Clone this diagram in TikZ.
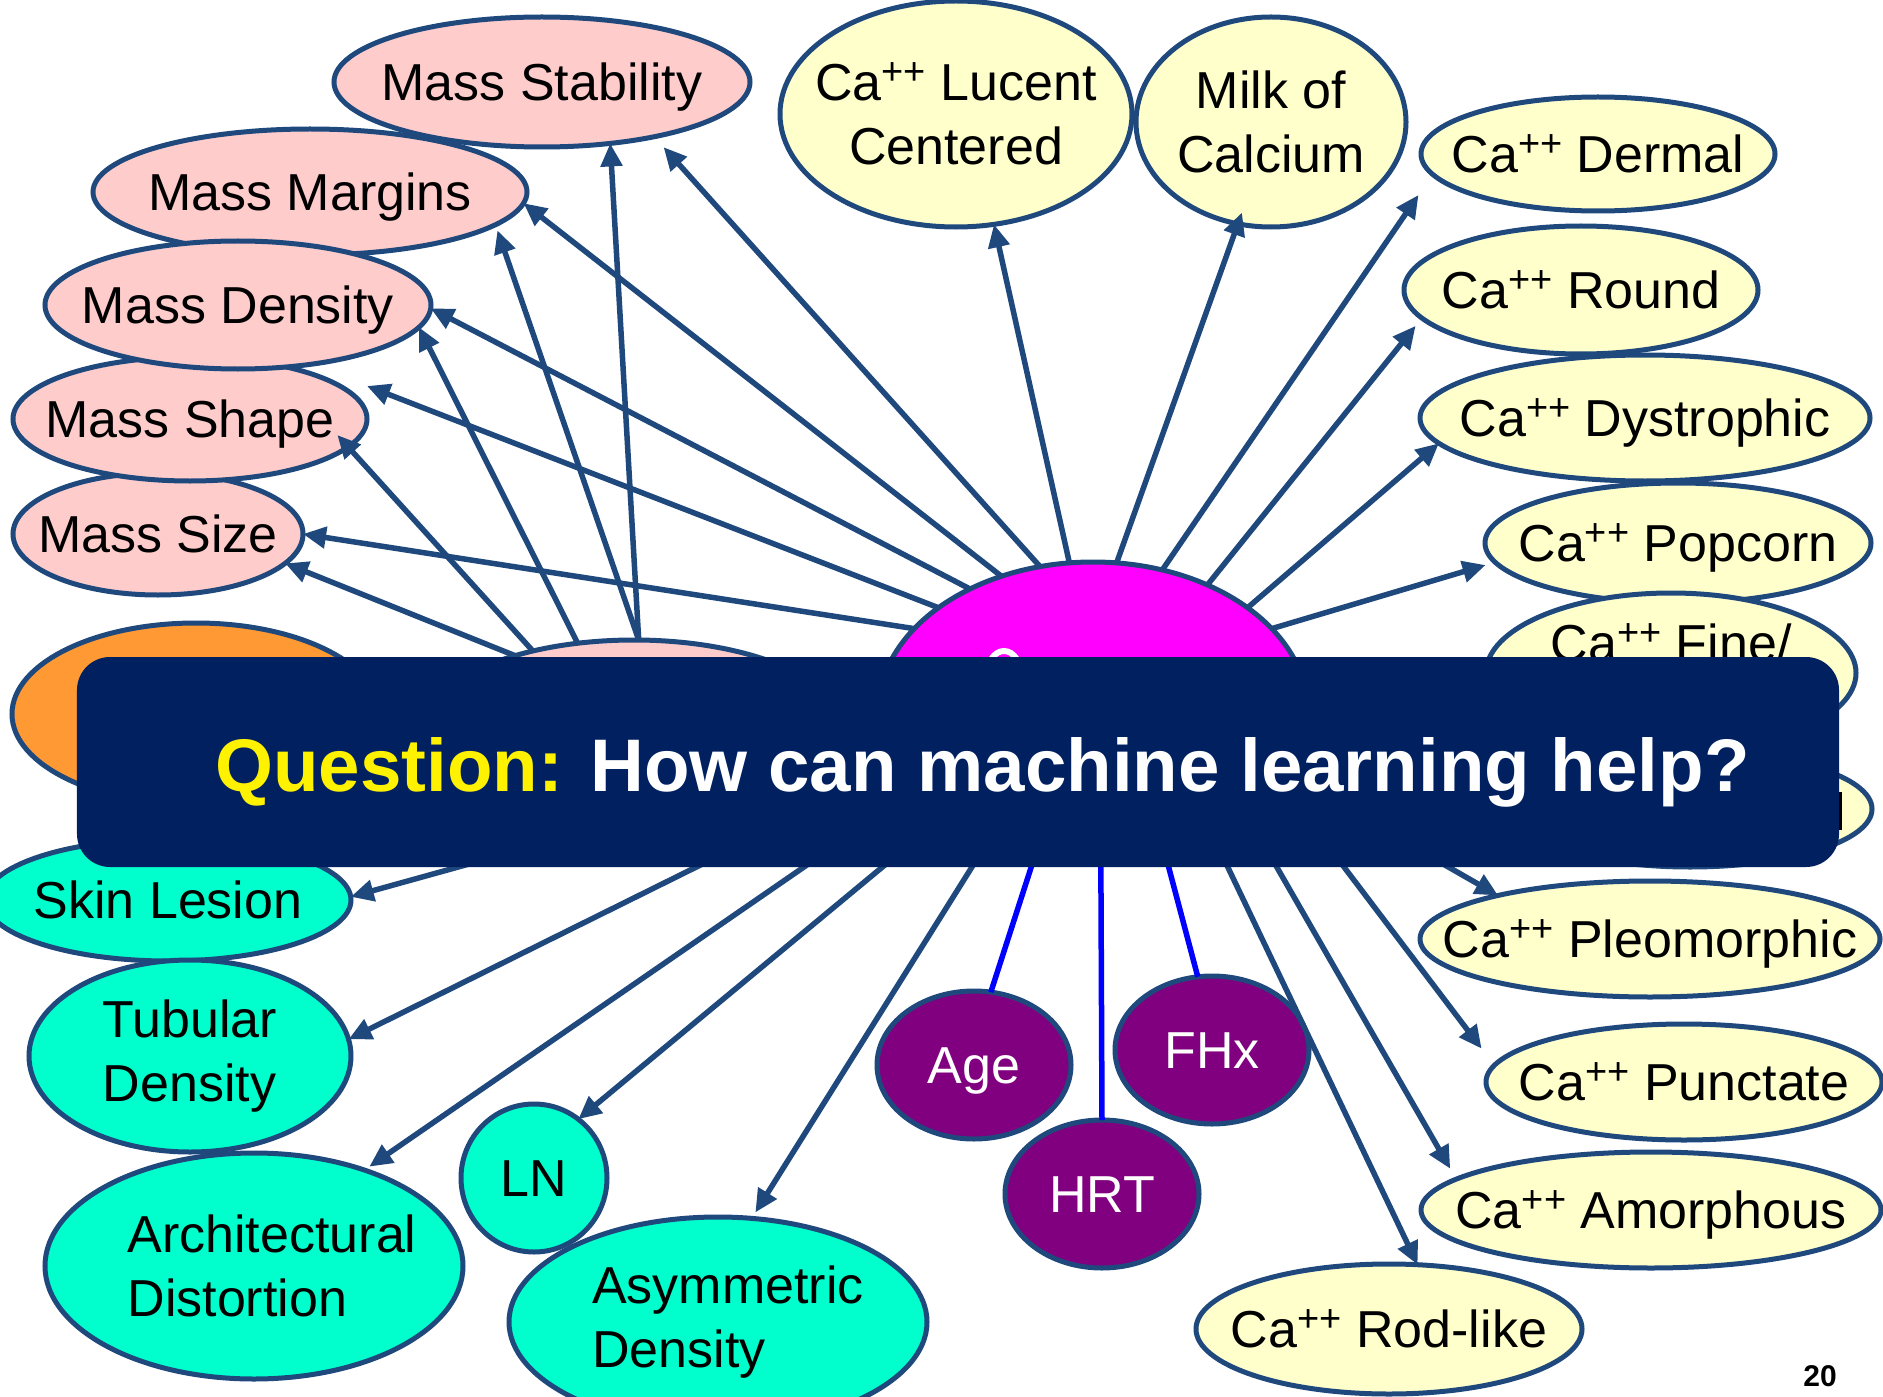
\documentclass[tikz,border=0pt]{standalone}
\usepackage{fontspec}
\setmainfont{Liberation Sans}
\usetikzlibrary{arrows.meta,shapes.geometric}
\definecolor{edgec}{HTML}{1F497D}
\definecolor{pinkf}{HTML}{FFCCCC}
\definecolor{yelf}{HTML}{FFFFCC}
\definecolor{cyanf}{HTML}{00FFCC}
\definecolor{purf}{HTML}{800080}
\definecolor{orgf}{HTML}{FF9933}
\definecolor{magf}{HTML}{FF00FF}
\definecolor{navyc}{HTML}{002060}
\definecolor{bluel}{HTML}{0000FF}
\newcommand{\CaPP}{Ca\raisebox{16bp}{\fontsize{38bp}{38bp}\selectfont ++}}
\begin{document}
\begin{tikzpicture}[x=1bp,y=-1bp,
  el/.style={ellipse, draw=edgec, line width=5bp, inner sep=-80bp, outer sep=0pt, align=center, font=\fontsize{52bp}{64bp}\selectfont},
  one/.style={text height=37bp, text depth=0bp},
  esz/.style 2 args={minimum width=#1bp, minimum height=#2bp},
  pinknode/.style={el, fill=pinkf},
  yelnode/.style={el, fill=yelf},
  cyannode/.style={el, fill=cyanf},
  purnode/.style={el, fill=purf, text=white},
  arr/.style={draw=edgec, line width=5.5bp, -{Triangle[length=23bp,width=21bp]}},
  bline/.style={draw=bluel, line width=5.5bp},
]
\useasboundingbox[fill=white] (0,0) rectangle (1883,1397);

% pink mass nodes
\node[pinknode, one, esz={416}{130}] (mstab) at (542,82) {Mass Stability};
\node[pinknode, one, esz={434}{126}] (mmarg) at (310,192) {Mass Margins};
\node[pinknode, one, esz={290}{122}] (msize) at (158,534) {Mass Size};
\node[pinknode, one, esz={354}{124}] (mshape) at (190,419) {Mass Shape};
\node[pinknode, one, esz={386}{128}] (mdens) at (238,305) {Mass Density};

% nodes mostly hidden behind the banner
\node[el, fill=orgf, esz={368}{182}] (orangen) at (196,714) {};
\node[pinknode, esz={422}{180}] (mass) at (634,730) {};
\node[el, fill=magf, esz={430}{300}] (central) at (1093,712) {};
\draw[white, line width=6bp] (1004,675) ellipse [x radius=17, y radius=24];

% yellow calcification nodes
\node[yelnode, esz={352}{226}] (lucent) at (956,114) {\CaPP{} Lucent\\Centered};
\node[yelnode, esz={270}{210}] (milk) at (1271,122) {Milk of\\Calcium};
\node[yelnode, one, esz={354}{114}] (dermal) at (1598,154) {\CaPP{} Dermal};
\node[yelnode, one, esz={354}{128}] (round) at (1581,290) {\CaPP{} Round};
\node[yelnode, one, esz={450}{126}] (dystro) at (1645,418) {\CaPP{} Dystrophic};
\node[yelnode, one, esz={386}{120}] (popcorn) at (1678,543) {\CaPP{} Popcorn};
\node[yelnode, esz={370}{160}] (fine) at (1671,673) {};
\node[anchor=base, inner sep=0pt, font=\fontsize{52bp}{64bp}\selectfont] (finetxt) at (1671,661) {\CaPP{} Fine/};
\node[yelnode, esz={364}{116}] (hidden2) at (1690,809) {};
\fill[black] (1836,792) rectangle (1842,830);
\node[yelnode, one, esz={460}{116}] (pleo) at (1650,939) {\CaPP{} Pleomorphic};
\node[yelnode, one, esz={396}{116}] (punct) at (1684,1082) {\CaPP{} Punctate};
\node[yelnode, one, esz={460}{116}] (amorph) at (1651,1210) {\CaPP{} Amorphous};
\node[yelnode, one, esz={386}{130}] (rod) at (1389,1329) {\CaPP{} Rod-like};

% cyan nodes
\node[cyannode, one, esz={366}{122}] (skin) at (168,900) {Skin Lesion};
\node[cyannode, esz={322}{192}, align=left] (tubular) at (190,1056) {Tubular\\Density};
\node[cyannode, esz={418}{226}, align=left] (arch) at (254,1266) {\hspace*{36bp}Architectural\\\hspace*{36bp}Distortion};
\node[cyannode, one, esz={146}{148}] (ln) at (534,1178) {LN};
\node[cyannode, esz={418}{210}, align=left] (asym) at (718,1322) {\hspace*{20bp}Asymmetric\\\hspace*{20bp}Density};

% purple nodes
\node[purnode, one, esz={194}{148}] (age) at (974,1065) {Age};
\node[purnode, one, esz={194}{148}] (fhx) at (1212,1050) {FHx};
\node[purnode, one, esz={194}{148}] (hrt) at (1102,1194) {HRT};

% arrows from central node
\coordinate (shapetip) at (367,386);
\draw[arr] (central.155) -- (msize.0);
\draw[arr] (central.146) -- (shapetip);
\draw[arr] (central.135) -- (mdens.-1);
\draw[arr] (central.124) -- (mmarg.-3);
\draw[arr, shorten >=14bp] (central.110) -- (mstab.-26);
\draw[arr] (central.99) -- (lucent.-71);
\draw[arr, shorten >=-12bp] (central.81) -- (milk.-108);
\draw[arr, shorten >=25bp] (central.64) -- (dermal.187);
\draw[arr, shorten >=10bp] (central.48) -- (round.190);
\draw[arr] (central.34) -- (dystro.187);
\draw[arr, shorten >=10bp] (central.25) -- (popcorn.186);
\draw[arr] (central.190) -- (skin.1);
\draw[arr] (central.196) -- (tubular.6);
\draw[arr, shorten >=6bp] (central.204) -- (arch.41);
\draw[arr] (central.215) -- (ln.53);
\draw[arr, shorten >=7bp] (central.231) -- (asym.72);
\draw[arr] (central.-46) -- (rod.66);
\draw[arr, shorten >=12bp] (central.-34) -- (amorph.171);
\draw[arr, shorten >=21bp] (central.-21) -- (punct.175);
\draw[arr] (central.-18) -- (pleo.164);

% arrows from the hidden mass node
\draw[arr] (mass.148) -- (msize.-13);
\draw[arr, shorten >=-16bp] (mass.142) -- (mshape.-10);
\draw[arr] (mass.123) -- (mdens.-7);
\draw[arr, shorten >=6bp] (mass.87) -- (mmarg.-10);
\draw[arr] (mass.87) -- (mstab.-42);

% blue links
\draw[bline] (central.-112) -- (age.77);
\draw[bline] (central.-87) -- (hrt.90);
\draw[bline] (central.-63) -- (fhx.101);

% banner
\node[fill=navyc, rounded corners=33bp, minimum width=1762bp, minimum height=210bp, inner sep=0pt] (banner) at (958,762) {};
\node[anchor=base west, inner sep=0pt, font=\fontsize{74.5bp}{90bp}\selectfont\bfseries] (qtext) at (215,791) {\textcolor{yellow}{Question:} \textcolor{white}{How can machine learning help?}};

\node[anchor=base east, inner sep=0pt, font=\fontsize{30bp}{36bp}\selectfont\bfseries] (pnum) at (1837,1386) {20};
\end{tikzpicture}
\end{document}
